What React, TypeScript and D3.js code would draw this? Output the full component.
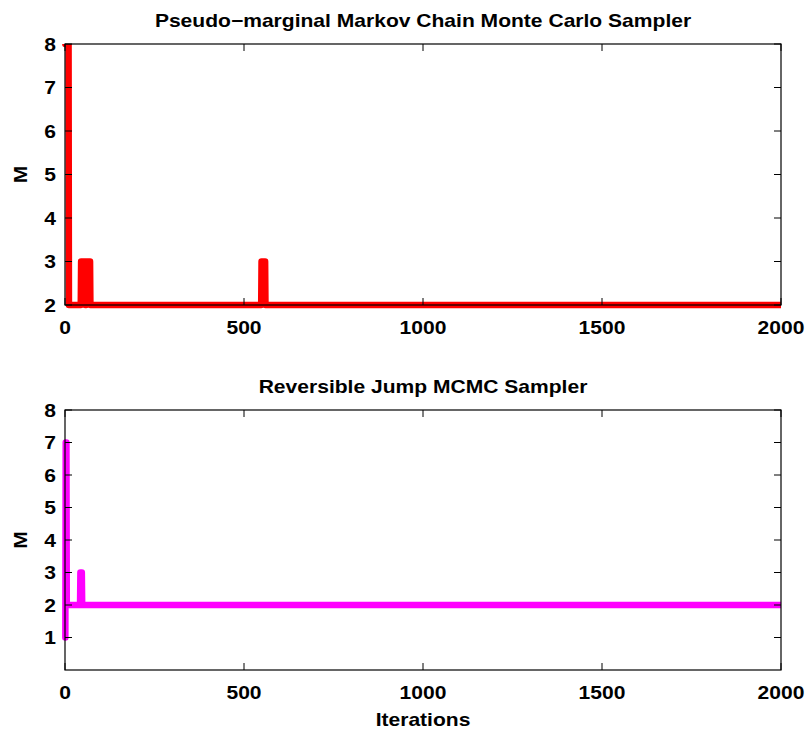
import React from 'react'
import * as d3 from 'd3'

const [W, H] = [806, 731]

// change points of the M trace (iteration, M)
const pmIters = [1, 10, 11, 44, 45, 56, 57, 59, 60, 70, 71, 548, 549, 559, 560, 2000]
const pmM = [8, 8, 2, 2, 3, 3, 2, 2, 3, 3, 2, 2, 3, 3, 2, 2]

const rjIters = [1, 2, 4, 5, 42, 43, 47, 48, 2000]
const rjM = [1, 7, 7, 2, 2, 3, 3, 2, 2]

const xTicks = [0, 500, 1000, 1500, 2000]
const topYTicks = [2, 3, 4, 5, 6, 7, 8]
const botYTicks = [1, 2, 3, 4, 5, 6, 7, 8]

const FONT = 'Liberation Sans, Arial, Helvetica, sans-serif'
const left = 65
const right = 781
const SX = 1.17 // reference text is horizontally stretched

function Txt({ x, y, anchor = 'middle', rotate = 0, children }) {
  return (
    <g transform={`translate(${x},${y}) rotate(${rotate}) scale(${SX},1)`}>
      <text textAnchor={anchor}>{children}</text>
    </g>
  )
}

function Panel({ id, top, bottom, yDomain, yTicks, iters, vals, color, title, xLabel }) {
  const x = d3.scaleLinear().domain([0, 2000]).range([left, right])
  const y = d3.scaleLinear().domain(yDomain).range([bottom, top])
  const line = d3.line<number>()
    .x((_, i) => x(iters[i]))
    .y(v => y(v))
  const tl = 7
  return (
    <g fontFamily={FONT} fontWeight="bold" fontSize={18} fill="#000">
      <clipPath id={id}>
        <rect x={0} y={top} width={right} height={bottom - top + 10} />
      </clipPath>
      <path d={line(vals) || ''} fill="none" stroke={color} strokeWidth={6.5}
        strokeLinejoin="round" strokeLinecap="round" clipPath={`url(#${id})`} />
      <rect x={left} y={top} width={right - left} height={bottom - top}
        fill="none" stroke="#000" strokeWidth={1.2} />
      {xTicks.map(t => (
        <g key={'x' + t}>
          <line x1={x(t)} x2={x(t)} y1={bottom} y2={bottom - tl} stroke="#000" />
          <line x1={x(t)} x2={x(t)} y1={top} y2={top + tl} stroke="#000" />
          <Txt x={x(t)} y={bottom + 29}>{t}</Txt>
        </g>
      ))}
      {yTicks.map(t => (
        <g key={'y' + t}>
          <line x1={left} x2={left + tl} y1={y(t)} y2={y(t)} stroke="#000" />
          <line x1={right} x2={right - tl} y1={y(t)} y2={y(t)} stroke="#000" />
          <Txt x={left - 9} y={y(t) + 6.5} anchor="end">{t}</Txt>
        </g>
      ))}
      <Txt x={(left + right) / 2} y={top - 17}>{title}</Txt>
      <Txt x={27} y={(top + bottom) / 2} rotate={-90}>M</Txt>
      {xLabel && <Txt x={(left + right) / 2} y={bottom + 56}>{xLabel}</Txt>}
    </g>
  )
}

export default function App() {
  return (
    <div style={{ position: 'absolute', left: 0, top: 0 }}>
      <svg width={W} height={H} style={{ display: 'block', background: '#fff' }}>
        <Panel id="c1" top={44} bottom={305} yDomain={[2, 8]} yTicks={topYTicks}
          iters={pmIters} vals={pmM} color="#ff0000"
          title="Pseudo−marginal Markov Chain Monte Carlo Sampler" />
        <Panel id="c2" top={410} bottom={670} yDomain={[0, 8]} yTicks={botYTicks}
          iters={rjIters} vals={rjM} color="#ff00ff"
          title="Reversible Jump MCMC Sampler" xLabel="Iterations" />
      </svg>
    </div>
  )
}
